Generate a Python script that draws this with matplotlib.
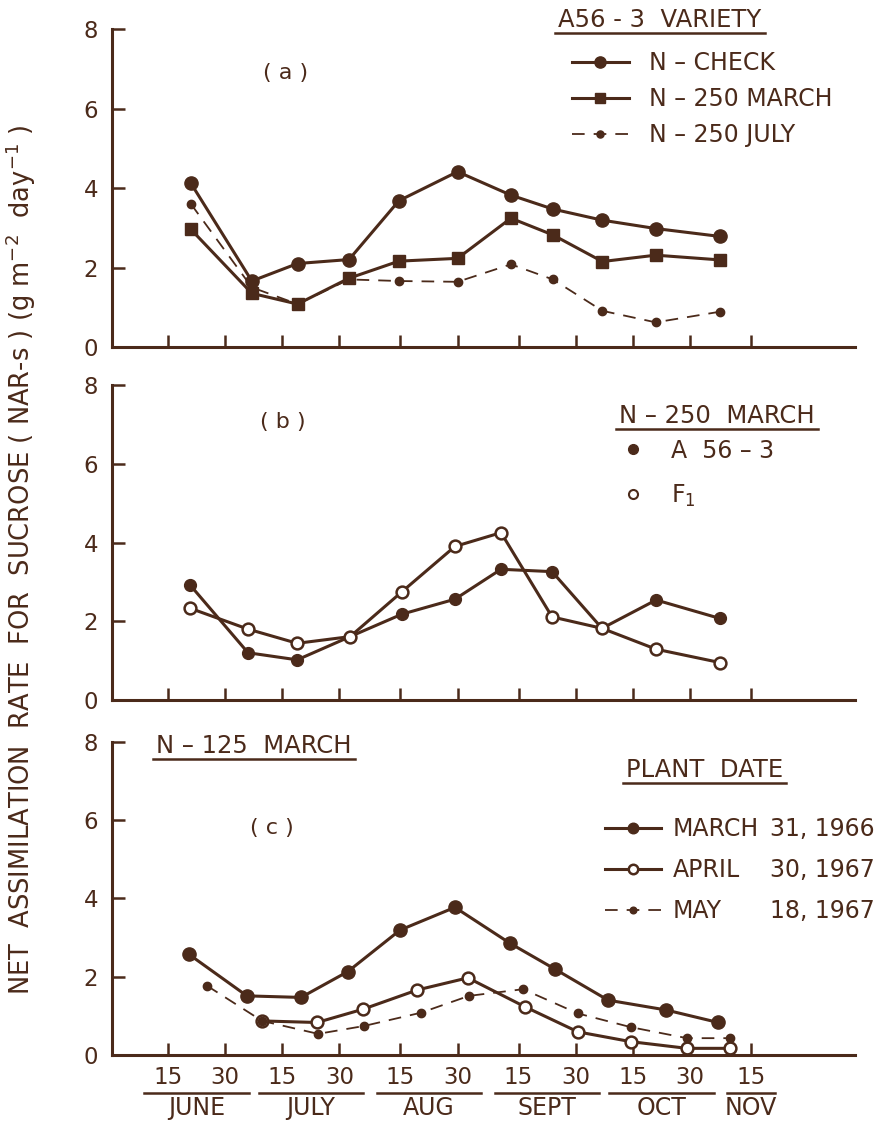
import numpy as np
import matplotlib
matplotlib.use("Agg")
import matplotlib.pyplot as plt
from matplotlib.lines import Line2D
import matplotlib.transforms as mtransforms

C = '#4b2a1a'
plt.rcParams['font.family'] = ['DejaVu Sans']
plt.rcParams['text.color'] = C

# x axis: day of year, ticks at the 15th and 30th of each month
tick_days = [166, 181, 196, 211, 227, 242, 258, 273, 288, 303, 319]
tick_labels = ['15', '30', '15', '30', '15', '30', '15', '30', '15', '30', '15']
months = ['JUNE', 'JULY', 'AUG', 'SEPT', 'OCT', 'NOV']
month_ticks = [[0, 1], [2, 3], [4, 5], [6, 7], [8, 9], [10]]

# panel (a): A56-3 variety
days_a = [172, 188, 200, 213.5, 226.6, 242, 256, 267, 280, 294, 311]
n_check = [4.12, 1.66, 2.10, 2.20, 3.68, 4.41, 3.82, 3.47, 3.19, 2.98, 2.78]
n250_march = [2.96, 1.35, 1.08, 1.73, 2.16, 2.23, 3.24, 2.82, 2.15, 2.31, 2.19]
n250_july = [3.60, 1.50, 1.08, 1.70, 1.66, 1.64, 2.08, 1.70, 0.91, 0.62, 0.89]

# panel (b): N-250 March
days_b = [171.8, 187, 199.9, 213.8, 227.4, 241.3, 253.4, 266.8, 279.9, 294.1, 310.9]
a56_3 = [2.92, 1.20, 1.02, 1.61, 2.18, 2.56, 3.32, 3.26, 1.82, 2.54, 2.07]
f1 = [2.33, 1.80, 1.44, 1.61, 2.75, 3.90, 4.25, 2.11, 1.82, 1.29, 0.95]

# panel (c): N-125 March, plant dates
days_mar = [171.5, 186.7, 200.9, 213.2, 226.9, 241.3, 255.8, 267.6, 281.5, 296.7, 310.4]
mar_1966 = [2.57, 1.51, 1.47, 2.13, 3.19, 3.77, 2.85, 2.19, 1.40, 1.15, 0.83]
days_apr = [190.7, 205.1, 217.2, 231.4, 244.7, 259.7, 273.6, 287.5, 302.2, 313.5]
apr_1967 = [0.87, 0.83, 1.17, 1.66, 1.97, 1.23, 0.59, 0.34, 0.17, 0.17]
days_may = [176.2, 190.7, 205.4, 217.4, 232.4, 245.0, 259.2, 273.6, 287.5, 302.2, 313.5]
may_1967 = [1.77, 0.87, 0.54, 0.74, 1.08, 1.51, 1.68, 1.06, 0.71, 0.43, 0.43]

fig = plt.figure(figsize=(8.84, 11.22), dpi=100)
fig.patch.set_facecolor('white')

left, width = 112 / 884, 743 / 884
ax_a = fig.add_axes([left, 1 - 347 / 1122, width, 318 / 1122])
ax_b = fig.add_axes([left, 1 - 700 / 1122, width, 315 / 1122])
ax_c = fig.add_axes([left, 1 - 1055 / 1122, width, 313.3 / 1122])

for ax in (ax_a, ax_b, ax_c):
    ax.set_xlim(151.3, 346.3)
    ax.set_ylim(0, 8)
    for s in ('top', 'right'):
        ax.spines[s].set_visible(False)
    for s in ('left', 'bottom'):
        ax.spines[s].set_color(C)
        ax.spines[s].set_linewidth(2.2)
    ax.set_yticks([0, 2, 4, 6, 8])
    ax.set_xticks(tick_days)
    ax.tick_params(direction='in', length=9, width=1.8, color=C,
                   labelcolor=C, labelsize=16.5, pad=8)
    ax.tick_params(axis='y', pad=10)
    ax.set_facecolor('none')

ax_a.set_xticklabels([])
ax_b.set_xticklabels([])
ax_c.set_xticklabels(tick_labels)

lw = 2.2
lfs = 17
dash = (7, 5)
# (a)
ax_a.plot(days_a, n_check, '-', color=C, lw=lw, marker='o', ms=9.5,
          label='N – CHECK')
ax_a.plot(days_a, n250_march, '-', color=C, lw=lw, marker='s', ms=8.5,
          label='N – 250 MARCH')
ax_a.plot(days_a, n250_july, color=C, lw=1.3, dashes=dash, marker='o',
          ms=6, label='N – 250 JULY')
leg_a = ax_a.legend(loc='upper left', bbox_to_anchor=(0.619, 0.93),
                    frameon=False, fontsize=lfs, handlelength=2.4,
                    handletextpad=0.85, labelspacing=0.5, borderpad=0,
                    borderaxespad=0, labelcolor=C, markerscale=0.85)

# (b)
ax_b.plot(days_b, a56_3, '-', color=C, lw=lw, marker='o', ms=8.5)
ax_b.plot(days_b, f1, '-', color=C, lw=lw, marker='o', ms=8.5,
          mfc='white', mec=C, mew=1.8)
hb = [Line2D([], [], ls='none', marker='o', color=C, ms=7),
      Line2D([], [], ls='none', marker='o', mfc='white', mec=C, mew=1.5, ms=6.5)]
leg_b = ax_b.legend(hb, ['A  56 – 3', 'F$_1$'],
                    loc='upper left', bbox_to_anchor=(0.682, 0.83),
                    frameon=False, fontsize=lfs, handlelength=1.2,
                    handletextpad=1.0, labelspacing=0.85, borderpad=0,
                    borderaxespad=0, labelcolor=C)

# (c)
ax_c.plot(days_mar, mar_1966, '-', color=C, lw=lw, marker='o', ms=9.5,
          label='MARCH')
ax_c.plot(days_apr, apr_1967, '-', color=C, lw=lw, marker='o', ms=8.5,
          mfc='white', mec=C, mew=1.8, label='APRIL')
ax_c.plot(days_may, may_1967, color=C, lw=1.3, dashes=dash, marker='o',
          ms=6, label='MAY')
leg_c = ax_c.legend(loc='upper left', bbox_to_anchor=(0.663, 0.76),
                    frameon=False, fontsize=lfs, handlelength=2.4,
                    handletextpad=0.5, labelspacing=0.72, borderpad=0,
                    borderaxespad=0, labelcolor=C, markerscale=0.8)
dates_c = ['31, 1966', '30, 1967', '18, 1967']

# titles and panel letters
fs = 17.5
t_a = ax_a.text(0.7375, 1.006, 'A56 - 3  VARIETY', ha='center', va='baseline',
                fontsize=fs, transform=ax_a.transAxes)
ax_a.text(0.233, 0.862, '( a )', ha='center', va='center', fontsize=16,
          transform=ax_a.transAxes)
t_b = ax_b.text(0.814, 0.879, 'N – 250  MARCH', ha='center', va='baseline',
                fontsize=fs, transform=ax_b.transAxes)
ax_b.text(0.230, 0.883, '( b )', ha='center', va='center', fontsize=16,
          transform=ax_b.transAxes)
t_c1 = ax_c.text(0.191, 0.964, 'N – 125  MARCH', ha='center', va='baseline',
                 fontsize=fs, transform=ax_c.transAxes)
ax_c.text(0.215, 0.725, '( c )', ha='center', va='center', fontsize=16,
          transform=ax_c.transAxes)
t_c2 = ax_c.text(0.797, 0.887, 'PLANT  DATE', ha='center', va='baseline',
                 fontsize=fs, transform=ax_c.transAxes)

# month names under the tick labels
blend = mtransforms.blended_transform_factory(ax_c.transData, ax_c.transAxes)
for name, idx in zip(months, month_ticks):
    xm = np.mean([tick_days[i] for i in idx])
    ax_c.text(xm, -0.169, name, ha='center', va='center', fontsize=17,
              transform=blend)

fig.text(21 / 884, 1 - 560 / 1122,
         'NET  ASSIMILATION  RATE  FOR  SUCROSE ( NAR-s ) (g m$^{-2}$  day$^{-1}$ )',
         rotation=90, ha='center', va='center', fontsize=18.5)

fig.canvas.draw()
r = fig.canvas.get_renderer()
inv = fig.transFigure.inverted()


def underline(bb, pad=2, ext=0):
    (x0, y0), (x1, y1) = inv.transform([[bb.x0 - ext, bb.y0 - pad],
                                        [bb.x1 + ext, bb.y0 - pad]])
    fig.add_artist(Line2D([x0, x1], [y0, y1], color=C, lw=1.8,
                          transform=fig.transFigure))


for t in (t_a, t_b, t_c1, t_c2):
    underline(t.get_window_extent(r), pad=1, ext=3)

labels = ax_c.get_xticklabels()
for idx in month_ticks:
    bbs = [labels[i].get_window_extent(r) for i in idx]
    bb = mtransforms.Bbox.union(bbs)
    underline(bb, pad=4, ext=9)

# dates of the plant-date legend, right aligned
for txt, d in zip(leg_c.get_texts(), dates_c):
    bb = txt.get_window_extent(r)
    yc = inv.transform([[0, (bb.y0 + bb.y1) / 2]])[0][1]
    fig.text(1 - 9 / 884, yc, d, ha='right', va='center', fontsize=lfs)

fig.savefig('out.png', dpi=100, facecolor='white')
